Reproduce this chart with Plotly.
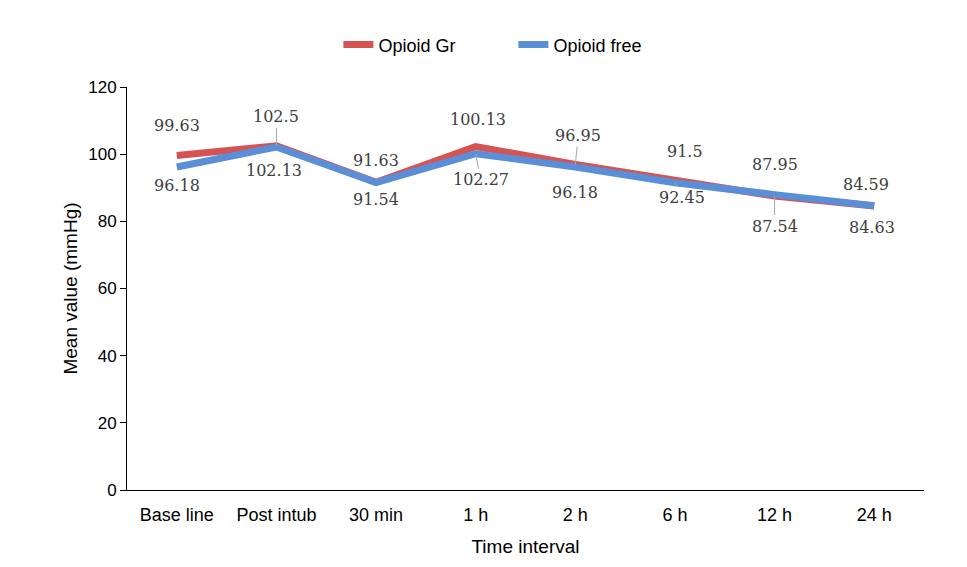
import plotly.graph_objects as go

categories = ["Base line", "Post intub", "30 min", "1 h", "2 h", "6 h", "12 h", "24 h"]
opioid_gr = [99.63, 102.5, 91.63, 102.27, 96.95, 92.45, 87.54, 84.59]
opioid_free = [96.18, 102.13, 91.54, 100.13, 96.18, 91.5, 87.95, 84.63]

# label layout: which value goes on top, and pixel offsets (style only)
top_labels = [99.63, 102.5, 91.63, 100.13, 96.95, 91.5, 87.95, 84.59]
bot_labels = [96.18, 102.13, 91.54, 102.27, 96.18, 92.45, 87.54, 84.63]
top_shift = [30, 29, 22, 27, 29, 28, 30, 21]
bot_shift = [18, 23, 17, 26, 25, 15, 30, 22]
top_leader = [False, True, False, False, True, False, False, False]
bot_leader = [False, False, False, True, False, True, True, False]
xoff_top = [0, 0, 0, 2, 3, 10, 0, -8]
xoff_bot = [0, -2, 0, 5, 0, 7, 0, -2]

RED = "#d65353"
BLUE = "#5a8fd8"

fig = go.Figure()
fig.add_trace(go.Scatter(x=categories, y=opioid_gr, mode="lines", name="Opioid Gr",
                         line=dict(color=RED, width=7)))
fig.add_trace(go.Scatter(x=categories, y=opioid_free, mode="lines", name="Opioid free",
                         line=dict(color=BLUE, width=7)))

lab_font = dict(family="DejaVu Serif", size=16, color="#404040")
anns = []
for i, c in enumerate(categories):
    hi = max(opioid_gr[i], opioid_free[i])
    lo = min(opioid_gr[i], opioid_free[i])
    for txt, base, sh, lead, xo, sign in [
        (top_labels[i], hi, top_shift[i], top_leader[i], xoff_top[i], -1),
        (bot_labels[i], lo, bot_shift[i], bot_leader[i], xoff_bot[i], 1),
    ]:
        if lead:
            anns.append(dict(x=c, y=base, xref="x", yref="y", text=f"{txt:g}",
                             showarrow=True, arrowhead=0, arrowwidth=1,
                             arrowcolor="#a6a6a6", ax=xo, ay=sign * sh,
                             font=lab_font))
        else:
            anns.append(dict(x=c, y=base, xref="x", yref="y", text=f"{txt:g}",
                             showarrow=False, xshift=xo, yshift=-sign * sh,
                             font=lab_font))

fig.update_layout(
    width=959, height=559,
    margin=dict(l=119, r=43, t=79, b=77, autoexpand=False),
    paper_bgcolor="white", plot_bgcolor="white",
    font=dict(family="Liberation Sans, Arial", size=16, color="#000000"),
    legend=dict(orientation="h", xref="container", x=0.527, xanchor="center",
                yref="container", y=0.934, yanchor="middle",
                font=dict(size=18), entrywidth=130, entrywidthmode="pixels"),
    annotations=anns,
    showlegend=True,
    hovermode=False,
)
fig.update_xaxes(type="category", showline=True, linecolor="#000000", linewidth=1,
                 showgrid=False, ticks="outside", ticklen=8, tickcolor="#ffffff",
                 range=[-0.5, 7.5], automargin=False,
                 title=dict(text="Time interval", standoff=16),
                 tickfont=dict(size=18))
fig.update_yaxes(range=[0, 120], dtick=20, showline=True, linecolor="#000000",
                 linewidth=1, showgrid=False, ticks="outside", ticklen=6,
                 tickcolor="#000000", zeroline=False, automargin=False,
                 title=dict(text="Mean value (mmHg)", standoff=5),
                 tickfont=dict(size=17))

fig.write_html("out.html")
